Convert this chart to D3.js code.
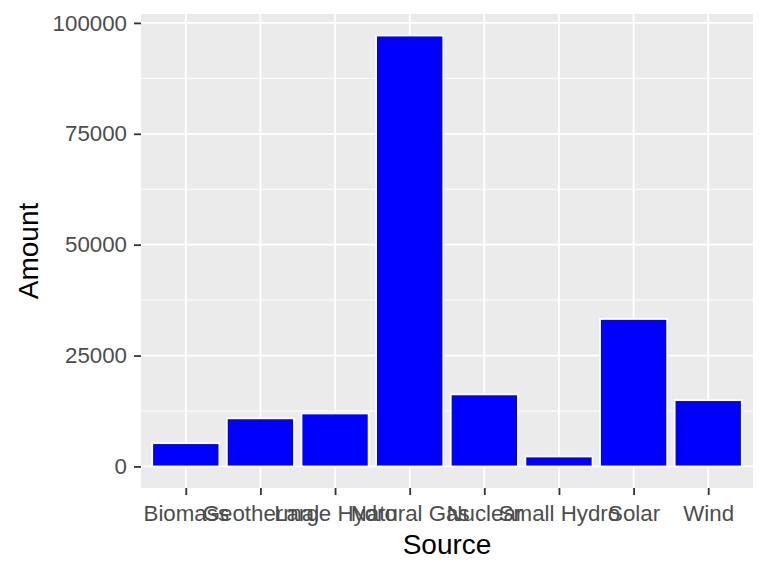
<!DOCTYPE html>
<html>
<head>
<meta charset="utf-8">
<script src="https://cdn.jsdelivr.net/npm/d3@7"></script>
<style>
  html, body { margin: 0; padding: 0; background: #ffffff; }
  text { font-family: "Liberation Sans", Arial, sans-serif; }
</style>
</head>
<body>
<script>
const categories = ["Biomass", "Geothermal", "Large Hydro", "Natural Gas", "Nuclear", "Small Hydro", "Solar", "Wind"];
const amounts = [5250, 10850, 11950, 97150, 16250, 2250, 33250, 14950];
const yTicks = [0, 25000, 50000, 75000, 100000];
const yMinor = [12500, 37500, 62500, 87500];
const xTitle = "Source";
const yTitle = "Amount";

const W = 768, H = 576;
const panel = { left: 141, right: 753, top: 14, bottom: 488 };

const svg = d3.select("body").append("svg").attr("width", W).attr("height", H);

const maxV = d3.max(amounts);
const pad = maxV * 0.05;
const y = d3.scaleLinear().domain([0 - pad, maxV + pad]).range([panel.bottom, panel.top]);

// discrete scale with 0.6 expansion each side
const n = categories.length;
const unit = (panel.right - panel.left) / (n - 1 + 1.2);
const x = d3.scalePoint().domain(categories)
  .range([panel.left + 0.6 * unit, panel.right - 0.6 * unit]);
const barW = 0.9 * unit;

svg.append("rect").attr("x", panel.left).attr("y", panel.top)
  .attr("width", panel.right - panel.left).attr("height", panel.bottom - panel.top)
  .attr("fill", "#EBEBEB");

// minor grid
svg.append("g").selectAll("line").data(yMinor).join("line")
  .attr("x1", panel.left).attr("x2", panel.right)
  .attr("y1", d => y(d)).attr("y2", d => y(d))
  .attr("stroke", "#ffffff").attr("stroke-width", 0.9);

// major grid
svg.append("g").selectAll("line").data(yTicks).join("line")
  .attr("x1", panel.left).attr("x2", panel.right)
  .attr("y1", d => y(d)).attr("y2", d => y(d))
  .attr("stroke", "#ffffff").attr("stroke-width", 1.8);
svg.append("g").selectAll("line").data(categories).join("line")
  .attr("x1", d => x(d)).attr("x2", d => x(d))
  .attr("y1", panel.top).attr("y2", panel.bottom)
  .attr("stroke", "#ffffff").attr("stroke-width", 1.8);

// bars
svg.append("g").selectAll("rect").data(categories).join("rect")
  .attr("x", d => x(d) - barW / 2)
  .attr("width", barW)
  .attr("y", (d, i) => y(amounts[i]))
  .attr("height", (d, i) => y(0) - y(amounts[i]))
  .attr("fill", "#0000FF")
  .attr("stroke", "#ffffff").attr("stroke-width", 1.8);

// y axis
const yAxis = d3.axisLeft(y).tickValues(yTicks).tickSize(7).tickPadding(7).tickFormat(d3.format("d"));
const gy = svg.append("g").attr("transform", `translate(${panel.left},0)`).call(yAxis);
gy.select(".domain").remove();
gy.selectAll(".tick line").attr("stroke", "#333333").attr("stroke-width", 1.8);
gy.selectAll(".tick text").attr("fill", "#4D4D4D").attr("font-size", 22.3)
  .attr("font-family", "Liberation Sans, Arial, sans-serif");

// x axis
const xAxis = d3.axisBottom(x).tickSize(7).tickPadding(10);
const gx = svg.append("g").attr("transform", `translate(0,${panel.bottom})`).call(xAxis);
gx.select(".domain").remove();
gx.selectAll(".tick line").attr("stroke", "#333333").attr("stroke-width", 1.8);
gx.selectAll(".tick text").attr("fill", "#4D4D4D").attr("font-size", 22.3)
  .attr("font-family", "Liberation Sans, Arial, sans-serif");

// titles
svg.append("text").attr("x", (panel.left + panel.right) / 2).attr("y", 554)
  .attr("text-anchor", "middle").attr("font-size", 28).attr("fill", "#000").text(xTitle);
svg.append("text")
  .attr("transform", `translate(38,${(panel.top + panel.bottom) / 2}) rotate(-90)`)
  .attr("text-anchor", "middle").attr("font-size", 28).attr("fill", "#000").text(yTitle);
</script>
</body>
</html>
